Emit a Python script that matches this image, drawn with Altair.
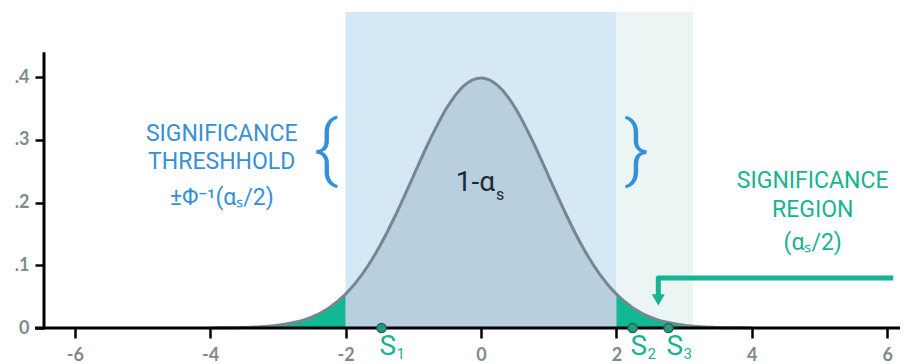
import altair as alt
import pandas as pd

# ---- data ----
curve_x = [-4, -3.75, -3.5, -3.25, -3, -2.75, -2.5, -2.25, -2, -1.75, -1.5, -1.25, -1,
           -0.75, -0.5, -0.25, 0, 0.25, 0.5, 0.75, 1, 1.25, 1.5, 1.75, 2, 2.25, 2.5,
           2.75, 3, 3.25, 3.5, 3.75, 4]
curve_y = [0.0001, 0.0004, 0.0009, 0.002, 0.0044, 0.0091, 0.0175, 0.0317, 0.054, 0.0863,
           0.1295, 0.1826, 0.242, 0.3011, 0.3521, 0.3867, 0.3989, 0.3867, 0.3521, 0.3011,
           0.242, 0.1826, 0.1295, 0.0863, 0.054, 0.0317, 0.0175, 0.0091, 0.0044, 0.002,
           0.0009, 0.0004, 0.0001]
threshold = 2.0
region_end = 3.13
sample_letters = ["S", "S", "S"]
sample_subs = ["1", "2", "3"]
sample_x = [-1.47, 2.24, 2.77]
x_ticks = [-6, -4, -2, 0, 2, 4, 6]
y_ticks = [0, 0.1, 0.2, 0.3, 0.4]
left_lines = ["SIGNIFICANCE", "THRESHHOLD", "\u00b1\u03a6\u207b\u00b9(\u03b1\u209b/2)"]
right_lines = ["SIGNIFICANCE", "REGION", "(\u03b1\u209b/2)"]
center_main = "1-\u03b1"
center_sub = "s"

W, H = 856, 316
XDOM = [-6.455, 6.19]
YDOM = [0, 0.504]

BLUE = "#3590db"
TEAL = "#17b392"
TAIL = "#10b894"
GREY = "#7d8b8e"
DARK = "#1e2a32"

curve = pd.DataFrame({"x": curve_x, "y": curve_y})
xs = alt.Scale(domain=XDOM, nice=False, zero=False)
ys = alt.Scale(domain=YDOM, nice=False)

XAX = alt.Axis(values=x_ticks, domain=False, grid=False, tickSize=10, tickWidth=2.5,
               tickColor="black", labelColor=GREY, labelFont="Lato", labelFontWeight="bold",
               labelFontSize=18, labelPadding=8, title=None,
               labelExpr="datum.value < 0 ? '-' + abs(datum.value) : '' + datum.value")
YAX = alt.Axis(values=y_ticks, domain=False, grid=False, tickSize=9, tickWidth=2.5,
               tickColor="black", labelColor=GREY, labelFont="Lato", labelFontWeight="bold",
               labelFontSize=18, labelPadding=6, title=None,
               labelExpr="datum.value == 0 ? '0' : replace(format(datum.value, '.1f'), '0.', '.')")


def xq(f):
    return alt.X(f, type="quantitative", scale=xs, axis=XAX, title=None)


def yq(f):
    return alt.Y(f, type="quantitative", scale=ys, axis=YAX, title=None)


base = alt.Chart(curve)

blue_rect = alt.Chart(pd.DataFrame({"a": [-threshold], "b": [threshold], "v": [0]})).mark_rect(
    color="#d4e8f6").encode(x=xq("a"), x2="b", y=yq("v"), y2=alt.value(0))
green_rect = alt.Chart(pd.DataFrame({"a": [threshold], "b": [region_end], "v": [0]})).mark_rect(
    color="#ebf5f3").encode(x=xq("a"), x2="b", y=yq("v"), y2=alt.value(0))

mid_area = base.mark_area(color="#b8cfdf", interpolate="monotone").encode(
    x=xq("x"), y=yq("y")).transform_filter(f"datum.x >= {-threshold} && datum.x <= {threshold}")
left_tail = base.mark_area(color=TAIL, interpolate="monotone").encode(
    x=xq("x"), y=yq("y")).transform_filter(f"datum.x <= {-threshold}")
right_tail = base.mark_area(color=TAIL, interpolate="monotone").encode(
    x=xq("x"), y=yq("y")).transform_filter(f"datum.x >= {threshold}")
line = base.mark_line(color="#76888f", strokeWidth=3, interpolate="monotone").encode(
    x=xq("x"), y=yq("y"))

x_axis_line = alt.Chart(pd.DataFrame({"v": [0]})).mark_rule(color="black", strokeWidth=3).encode(
    x=alt.value(-9), x2=alt.value(W), y=yq("v"))
y_axis_line = alt.Chart(pd.DataFrame({"a": [0], "b": [0.44]})).mark_rule(
    color="black", strokeWidth=3).encode(x=alt.value(0), y=yq("a"), y2="b")

samples = pd.DataFrame({"s": sample_letters, "sub": sample_subs, "x": sample_x, "y": [0, 0, 0]})
pts = alt.Chart(samples).mark_point(filled=True, shape="circle", size=85, fill="#2a9a7e",
                                   stroke="#1e6b5a", strokeWidth=1.5, opacity=1).encode(
    x=xq("x"), y=yq("y"))
pt_letters = alt.Chart(samples).mark_text(align="left", baseline="middle", dx=-2, dy=19,
                                         font="Roboto", fontSize=28, color=TEAL).encode(
    x=xq("x"), y=yq("y"), text="s:N")
pt_subs = alt.Chart(samples).mark_text(align="left", baseline="middle", dx=15, dy=26,
                                      font="Roboto", fontSize=15, color=TEAL).encode(
    x=xq("x"), y=yq("y"), text="sub:N")

left_df = pd.DataFrame({"t": left_lines, "x": [-3.83] * 3, "y": [0.309, 0.264, 0.208]})
left_txt = alt.Chart(left_df).mark_text(font="Roboto", fontSize=23, color=BLUE,
                                       baseline="middle").encode(
    x=xq("x"), y=yq("y"), text="t:N")
right_df = pd.DataFrame({"t": right_lines, "x": [4.9] * 3, "y": [0.234, 0.189, 0.136]})
right_txt = alt.Chart(right_df).mark_text(font="Roboto", fontSize=23, color=TEAL,
                                         baseline="middle").encode(
    x=xq("x"), y=yq("y"), text="t:N")

braces_df = pd.DataFrame({"t": ["{", "}"], "x": [-2.29, 2.30], "y": [0.281, 0.281]})
braces = alt.Chart(braces_df).mark_text(font="Roboto", fontWeight=300, fontSize=74, color=BLUE,
                                       baseline="middle").encode(
    x=xq("x"), y=yq("y"), text="t:N")

center_df = pd.DataFrame({"t": [center_main], "s": [center_sub], "x": [0.207], "y": [0.232]})
center_txt = alt.Chart(center_df).mark_text(
    font="Roboto", fontSize=28, color=DARK, baseline="middle", align="right").encode(
    x=xq("x"), y=yq("y"), text="t:N")
center_subtxt = alt.Chart(center_df).mark_text(
    font="Roboto", fontSize=16, color=DARK, baseline="middle", align="left", dx=1, dy=12).encode(
    x=xq("x"), y=yq("y"), text="s:N")

arrow_df = pd.DataFrame({"i": [0, 1, 2], "x": [6.09, 2.62, 2.62], "y": [0.0797, 0.0797, 0.052]})
arrow_line = alt.Chart(arrow_df).mark_line(color=TEAL, strokeWidth=5, strokeJoin="round").encode(
    x=xq("x"), y=yq("y"), order="i:Q")
arrow_head = alt.Chart(pd.DataFrame({"x": [2.62], "y": [0.045]})).mark_point(
    shape="triangle-down", filled=True, size=170, color=TEAL, opacity=1).encode(
    x=xq("x"), y=yq("y"))

chart = alt.layer(
    blue_rect, green_rect, mid_area, left_tail, right_tail, line,
    x_axis_line, y_axis_line, pts, pt_letters, pt_subs, left_txt, right_txt, braces,
    center_txt, center_subtxt, arrow_line, arrow_head,
).properties(
    width=W, height=H,
    autosize=alt.AutoSizeParams(type="none"),
    padding={"left": 36, "top": 4, "right": 0, "bottom": 36},
).configure_view(stroke=None).configure_axisY(minExtent=32, maxExtent=32)

chart.save("out.html", embed_options={"renderer": "svg", "actions": False})
